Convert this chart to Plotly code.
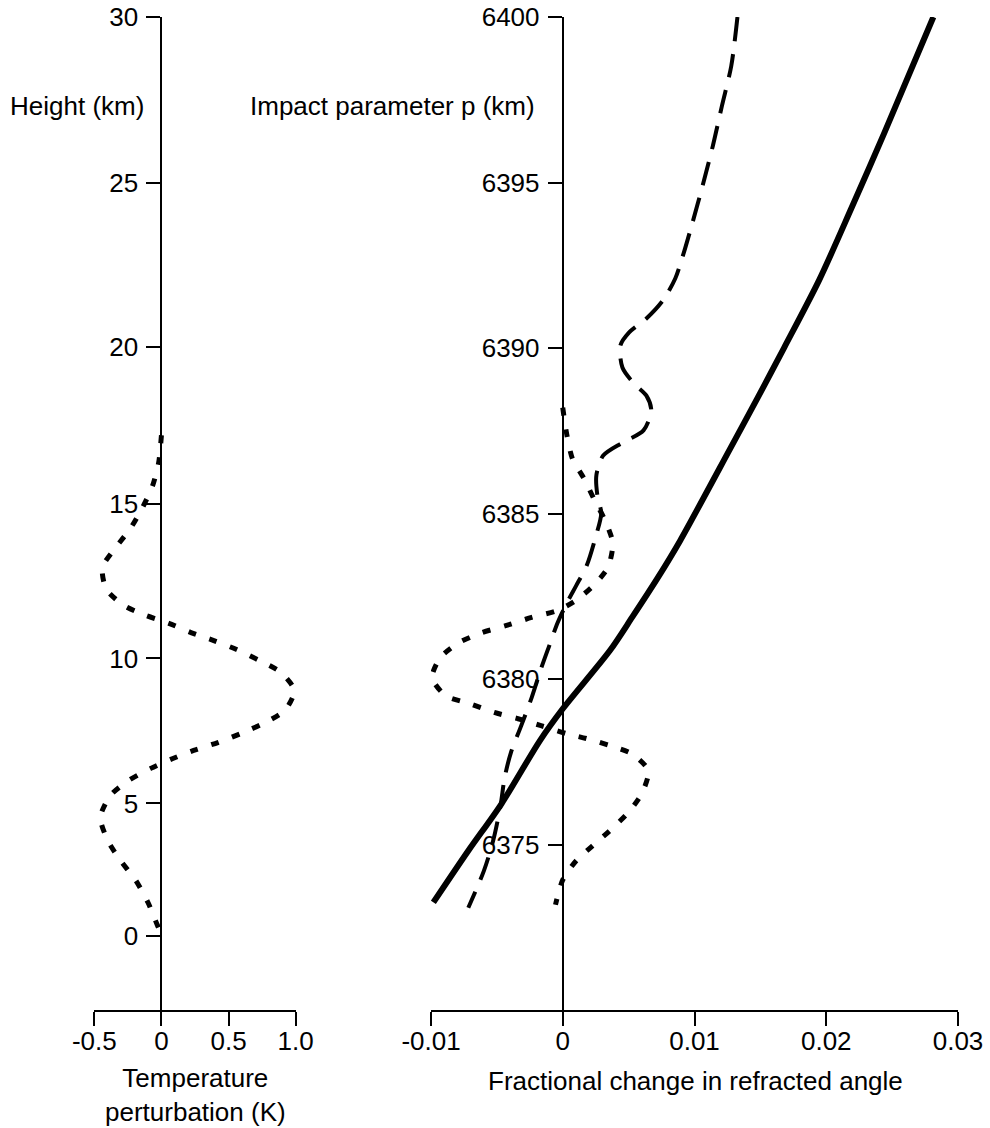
import numpy as np
import plotly.graph_objects as go

# ---------------- data ----------------
# Left panel: height tick labels and the impact parameter (km) at which each sits
height_ticks = [0, 5, 10, 15, 20, 25, 30]
height_tick_p = [6372.25, 6376.24, 6380.62, 6385.28, 6390.02, 6395.0, 6400.0]

# Temperature perturbation profile (K) versus height (km)
temp_height = [17.2, 16.34, 15.6, 14.9, 14.22, 13.6, 12.95, 12.24, 11.72, 11.40, 11.14,
               10.84, 10.58, 10.29, 9.93, 9.52, 8.90, 8.21, 7.76, 7.41, 7.10,
               6.83, 6.55, 6.21, 5.79, 5.28, 4.47, 3.60, 2.84, 2.08, 1.25, 0.45, 0.27]
temp_pert = [0.0, -0.02, -0.065, -0.14, -0.23, -0.34, -0.44, -0.41, -0.28, -0.12, 0.055,
             0.22, 0.39, 0.56, 0.73, 0.89, 0.99, 0.92, 0.76, 0.59, 0.42,
             0.24, 0.085, -0.08, -0.245, -0.38, -0.455, -0.40, -0.305, -0.19, -0.10, -0.035, -0.02]

# Right panel: fractional change in refracted angle versus impact parameter p (km)
solid_x = [-0.00982, -0.00717, -0.00465, -0.00173, 0.0, 0.00358, 0.00526,
           0.00723, 0.00891, 0.01271, 0.01481, 0.01682, 0.01946, 0.02194, 0.0244, 0.02813]
solid_p = [6373.25, 6374.81, 6376.23, 6378.14, 6379.10, 6380.86, 6381.86,
           6383.07, 6384.18, 6386.96, 6388.51, 6390.02, 6392.05, 6394.25, 6396.49, 6400.0]

dashed_x = [0.01326, 0.01279, 0.01209, 0.01140, 0.01062, 0.00985, 0.00912, 0.00854,
            0.00759, 0.00635, 0.00504, 0.00438, 0.00453, 0.0054, 0.00635, 0.00672, 0.00613,
            0.00453, 0.00307, 0.00255, 0.00263, 0.00292, 0.00248, 0.00182, 0.00102,
            0.00029, -0.00039, -0.00102, -0.00165, -0.00236, -0.00315, -0.00394,
            -0.00441, -0.00472, -0.00528, -0.00598, -0.00717]
dashed_p = [6400.0, 6398.52, 6397.33, 6396.12, 6394.91, 6393.79, 6392.79, 6392.10,
            6391.43, 6390.89, 6390.47, 6390.08, 6389.41, 6388.93, 6388.56, 6388.11, 6387.51,
            6387.14, 6386.75, 6386.15, 6385.54, 6385.00, 6384.27, 6383.43, 6382.82,
            6382.28, 6381.70, 6381.01, 6380.31, 6379.44, 6378.59, 6377.77,
            6377.02, 6376.18, 6375.12, 6374.21, 6373.09]

dotted_x = [0.0, 0.00029, 0.00073, 0.00161, 0.00234, 0.00321, 0.0038, 0.00343,
            0.00234, 0.00102, -0.00039, -0.00236, -0.00433, -0.00614, -0.00787,
            -0.00929, -0.00992, -0.0089, -0.00709, -0.0052, -0.00339, -0.00165,
            0.00029, 0.00182, 0.00358, 0.00526, 0.0065, 0.00599, 0.00496, 0.00358,
            0.00226, 0.00102, 0.0, -0.00055]
dotted_p = [6388.20, 6387.42, 6386.66, 6386.06, 6385.46, 6384.79, 6384.10, 6383.37,
            6382.83, 6382.38, 6382.07, 6381.86, 6381.61, 6381.40, 6381.10,
            6380.65, 6380.04, 6379.50, 6379.26, 6378.99, 6378.80, 6378.59,
            6378.35, 6378.20, 6377.99, 6377.74, 6377.23, 6376.53, 6375.96, 6375.42,
            6374.96, 6374.51, 6373.93, 6373.18]

left_x_ticks = [-0.5, 0, 0.5, 1.0]
left_x_labels = ["-0.5", "0", "0.5", "1.0"]
right_x_ticks = [-0.01, 0, 0.01, 0.02, 0.03]
right_x_labels = ["-0.01", "0", "0.01", "0.02", "0.03"]
p_ticks = [6375, 6380, 6385, 6390, 6395, 6400]

# ---------------- layout geometry ----------------
W, H = 990, 1128
FONT = "Liberation Sans, Arial, Helvetica, sans-serif"
FS = 26
left_dom = [94.3 / W, 295.7 / W]
right_dom = [431 / W, 958 / W]
y_dom = [1 - 1010 / H, 1 - 17 / H]
left_xr = [-0.5, 1.0]
right_xr = [-0.01, 0.03]
p_range = [6370, 6400]


def zero_pos(dom, xr):
    return dom[0] + (0 - xr[0]) / (xr[1] - xr[0]) * (dom[1] - dom[0])


temp_p = np.interp(temp_height, height_ticks, height_tick_p)

fig = go.Figure()
fig.add_trace(go.Scatter(x=temp_pert, y=temp_p, xaxis="x", yaxis="y", mode="lines",
                         line=dict(color="black", width=5, dash="8px,14px",
                                   shape="spline", smoothing=0.7),
                         hoverinfo="skip", showlegend=False))
fig.add_trace(go.Scatter(x=solid_x, y=solid_p, xaxis="x2", yaxis="y2", mode="lines",
                         line=dict(color="black", width=6, shape="spline", smoothing=0.8),
                         hoverinfo="skip", showlegend=False))
fig.add_trace(go.Scatter(x=dashed_x, y=dashed_p, xaxis="x2", yaxis="y2", mode="lines",
                         line=dict(color="black", width=4, dash="24px,13px",
                                   shape="spline", smoothing=0.8),
                         hoverinfo="skip", showlegend=False))
fig.add_trace(go.Scatter(x=dotted_x, y=dotted_p, xaxis="x2", yaxis="y2", mode="lines",
                         line=dict(color="black", width=5, dash="8px,14px",
                                   shape="spline", smoothing=0.7),
                         hoverinfo="skip", showlegend=False))

axis_common = dict(showgrid=False, zeroline=False, showline=True, linecolor="black",
                   linewidth=2, ticks="outside", ticklen=14, tickwidth=2,
                   tickcolor="black", tickfont=dict(family=FONT, size=FS, color="black"),
                   automargin=False)

fig.update_layout(
    width=W, height=H,
    margin=dict(l=0, r=0, t=0, b=0),
    paper_bgcolor="white", plot_bgcolor="white",
    showlegend=False,
    xaxis=dict(domain=left_dom, range=left_xr, anchor="y", tickmode="array",
               tickvals=left_x_ticks, ticktext=left_x_labels, ticklabelstandoff=-7,
               **axis_common),
    yaxis=dict(domain=y_dom, range=p_range, anchor="free",
               position=zero_pos(left_dom, left_xr), tickmode="array",
               tickvals=height_tick_p, ticktext=[str(h) for h in height_ticks],
               ticklabelstandoff=3, **axis_common),
    xaxis2=dict(domain=right_dom, range=right_xr, anchor="y2", tickmode="array",
                tickvals=right_x_ticks, ticktext=right_x_labels, ticklabelstandoff=-7,
                **axis_common),
    yaxis2=dict(domain=y_dom, range=p_range, anchor="free",
                position=zero_pos(right_dom, right_xr), tickmode="array",
                tickvals=p_ticks, ticktext=[str(t) for t in p_ticks],
                ticklabelstandoff=3, **axis_common),
)

ann_font = dict(family=FONT, size=FS, color="black")
fig.add_annotation(text="Height (km)", xref="paper", yref="paper", x=146 / W, y=1 - 106 / H,
                   xanchor="right", yanchor="middle", showarrow=False, font=ann_font)
fig.add_annotation(text="Impact parameter p (km)", xref="paper", yref="paper", x=537 / W,
                   y=1 - 106 / H, xanchor="right", yanchor="middle", showarrow=False,
                   font=ann_font)
fig.add_annotation(text="Temperature<br>perturbation (K)", xref="paper", yref="paper",
                   x=195 / W, y=1 - 1095 / H, xanchor="center", yanchor="middle",
                   align="center", showarrow=False, font=ann_font)
fig.add_annotation(text="Fractional change in refracted angle", xref="paper", yref="paper",
                   x=695 / W, y=1 - 1081 / H, xanchor="center", yanchor="middle",
                   showarrow=False, font=ann_font)

fig.write_html("out.html", config={"displayModeBar": False},
               post_script="document.body.style.margin='0';document.body.style.overflow='hidden';")
